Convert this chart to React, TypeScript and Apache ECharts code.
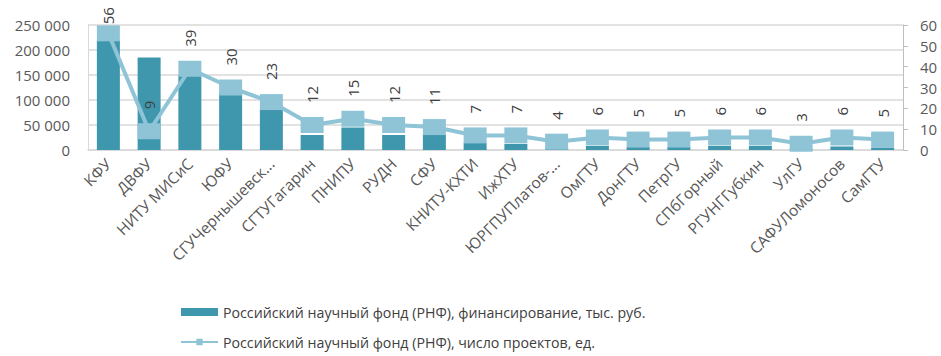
import React, { useEffect, useRef } from "react";
import * as echarts from "echarts";

const categories = [
  "КФУ", "ДВФУ", "НИТУ МИСиС", "ЮФУ", "СГУЧернышевск...", "СГТУГагарин", "ПНИПУ", "РУДН", "СФУ",
  "КНИТУ-КХТИ", "ИжХТУ", "ЮРГПУПлатов-...", "ОмГТУ", "ДонГТУ", "ПетрГУ", "СПбГорный", "РГУНГГубкин",
  "УлГУ", "САФУЛомоносов", "СамГТУ",
];
const funding = [
  220000, 185000, 150000, 115000, 80000, 30000, 45000, 30000, 30000,
  14000, 12000, 4000, 8000, 6000, 6000, 8000, 8000, 2000, 7000, 5000,
];
const projects = [56, 9, 39, 30, 23, 12, 15, 12, 11, 7, 7, 4, 6, 5, 5, 6, 6, 3, 6, 5];
const leftTicks = { min: 0, max: 250000, interval: 50000 };
const rightTicks = { min: 0, max: 60, interval: 10 };
const seriesNames = [
  "Российский научный фонд (РНФ), финансирование, тыс. руб.",
  "Российский научный фонд (РНФ), число проектов, ед.",
];

const FONT = "'Open Sans', 'Noto Sans', sans-serif";

export default function App() {
  const ref = useRef<HTMLDivElement>(null);
  useEffect(() => {
    document.body.style.margin = "0";
    const chart = echarts.init(ref.current!, null, { renderer: "svg" });
    const fmt = (v: number) => String(v).replace(/\B(?=(\d{3})+(?!\d))/g, " ");
    chart.setOption({
      animation: false,
      textStyle: { fontFamily: FONT },
      grid: { left: 88, right: 38, top: 25, bottom: 206, containLabel: false },
      legend: {
        orient: "vertical",
        left: 175,
        top: 300,
        itemGap: 16,
        itemWidth: 37,
        itemHeight: 8,
        textStyle: { fontSize: 14.2, color: "#404040", fontFamily: FONT },
        data: [
          { name: seriesNames[0], icon: "rect" },
          { name: seriesNames[1] },
        ],
      },
      xAxis: {
        type: "category",
        data: categories,
        axisTick: { show: false },
        axisLine: { lineStyle: { color: "#d9d9d9", width: 1.5 } },
        axisLabel: {
          interval: 0,
          rotate: 45,
          fontSize: 15.5,
          color: "#595959",
          margin: 11,
          fontFamily: FONT,
        },
      },
      yAxis: [
        {
          type: "value",
          ...leftTicks,
          axisLine: { show: true, lineStyle: { color: "#d9d9d9", width: 1 } },
          axisTick: { show: false },
          axisLabel: { fontSize: 15, color: "#595959", margin: 18, formatter: fmt, fontFamily: FONT },
          splitLine: { lineStyle: { color: "#d9d9d9", width: 1.5 } },
        },
        {
          type: "value",
          ...rightTicks,
          position: "right",
          axisLine: { show: true, lineStyle: { color: "#bfbfbf", width: 1 } },
          axisTick: { show: true, length: 5, lineStyle: { color: "#bfbfbf" } },
          axisLabel: { fontSize: 15, color: "#595959", margin: 17, fontFamily: FONT },
          splitLine: { show: false },
        },
      ],
      series: [
        {
          name: seriesNames[0],
          type: "bar",
          data: funding,
          barWidth: 23,
          itemStyle: { color: "#3f97ae" },
          z: 2,
        },
        {
          name: seriesNames[1],
          type: "line",
          yAxisIndex: 1,
          data: projects.map((v, i) =>
            i === 0 ? { value: v, label: { distance: 1 } } : v
          ),
          symbol: "rect",
          symbolSize: [23, 16],
          itemStyle: { color: "#8fc4d7" },
          lineStyle: { color: "#8fc4d7", width: 4 },
          z: 3,
          label: {
            show: true,
            position: "top",
            rotate: 90,
            align: "left",
            verticalAlign: "middle",
            distance: 14,
            fontSize: 15,
            color: "#404040",
            fontFamily: FONT,
          },
        },
      ],
    });
    return () => chart.dispose();
  }, []);
  return <div ref={ref} style={{ width: 941, height: 356 }} />;
}
